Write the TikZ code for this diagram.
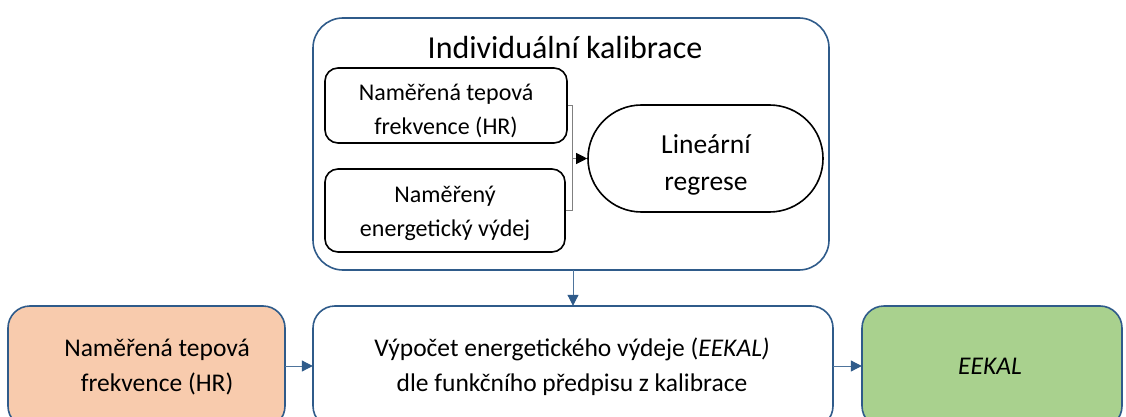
\documentclass[tikz,border=0pt]{standalone}
\usepackage{fontspec}
\setmainfont{Carlito}
\usetikzlibrary{arrows.meta,shapes.misc}
\definecolor{bdblue}{HTML}{2F5B8A}
\definecolor{orfill}{HTML}{F8CBAD}
\definecolor{grfill}{HTML}{A9D18E}
\tikzset{
  outerbox/.style={draw=bdblue,line width=1.6pt,rounded corners=30pt,anchor=north west,inner sep=0pt},
  innerbox/.style={draw=black,line width=1.6pt,rounded corners=13pt,inner sep=0pt},
  bluearrow/.style={draw=bdblue!85,line width=1pt,-{Triangle[length=11pt,width=11pt,fill=bdblue,color=bdblue]}},
  grayline/.style={draw=gray,line width=1pt},
  txt/.style={align=center,font=\fontsize{24}{34}\selectfont},
  bigtxt/.style={align=center,font=\fontsize{25.5}{35}\selectfont}
}
\begin{document}
\begin{tikzpicture}[x=1pt,y=-1pt]
\useasboundingbox (0,0) rectangle (1126,417);
\clip (0,0) rectangle (1126,417);
% outer calibration box
\draw[outerbox] (313,18) rectangle (829,270);
\node[minimum width=516pt,minimum height=252pt,anchor=north west,inner sep=0pt] (cal) at (313,18) {};
\node[font=\fontsize{32}{38}\selectfont] (title) at (565,48) {Individuální kalibrace};
% inner boxes
\node[innerbox,minimum width=242pt,minimum height=75pt] (b1) at (446,105.5) {};
\node[txt] at (446,111) {Naměřená tepová\\frekvence (HR)};
\node[innerbox,minimum width=240pt,minimum height=83pt] (b2) at (445,210.5) {};
\node[txt] at (445,213) {Naměřený\\energetický výdej};
\node[draw=black,line width=1.6pt,rounded rectangle,minimum width=235pt,minimum height=107pt,inner sep=0pt] (lr) at (705.5,158.5) {};
\node[align=center,font=\fontsize{27.5}{37}\selectfont] at (706,165) {Lineární\\regrese};
% elbow connector
\coordinate (j) at (572,158.5);
\draw[grayline] (b1.east) -| (j);
\draw[grayline] (b2.east) -| (j);
\draw[grayline,-{Triangle[length=11pt,width=11pt,fill=black,color=black]}] (j) -- (lr.west);
% bottom row
\draw[draw=bdblue,line width=1.6pt,fill=orfill,rounded corners=22pt] (8,306) rectangle (285,428);
\node[minimum width=277pt,minimum height=122pt,inner sep=0pt] (a) at (146.5,367) {};
\node[bigtxt] at (157,367) {Naměřená tepová\\frekvence (HR)};
\draw[draw=bdblue,line width=1.6pt,fill=white,rounded corners=22pt] (313,306) rectangle (833,428);
\node[minimum width=520pt,minimum height=122pt,inner sep=0pt] (b) at (573,367) {};
\node[bigtxt] at (572,367) {Výpočet energetického výdeje (\textit{EEKAL)}\\dle funkčního předpisu z kalibrace};
\draw[draw=bdblue,line width=1.6pt,fill=grfill,rounded corners=22pt] (862,306) rectangle (1122,428);
\node[minimum width=260pt,minimum height=122pt,inner sep=0pt] (c) at (992,367) {};
\node[font=\fontsize{25.5}{30}\selectfont\itshape] at (990,366) {EEKAL};
% arrows
\draw[bluearrow] (a.east |- 0,366) -- (b.west |- 0,366);
\draw[bluearrow] (b.east |- 0,366) -- (c.west |- 0,366);
\draw[bluearrow] (cal.south -| 573,0) -- (b.north -| 573,0);
\end{tikzpicture}
\end{document}
